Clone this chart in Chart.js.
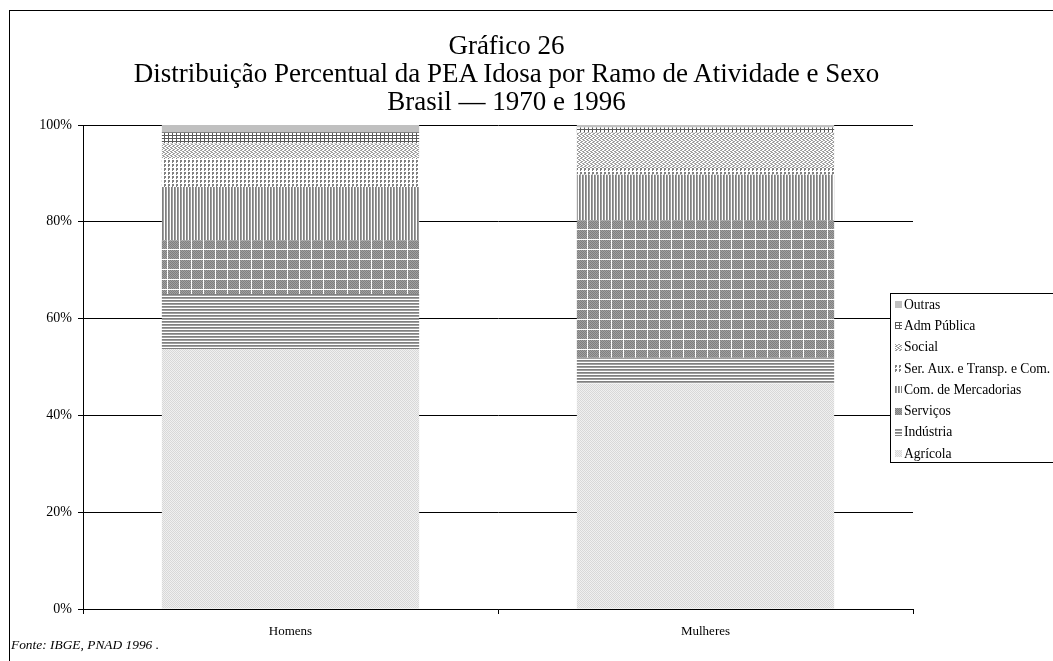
<!DOCTYPE html>
<html>
<head>
<meta charset="utf-8">
<script src="https://cdn.jsdelivr.net/npm/chart.js@4/dist/chart.umd.min.js"></script>
<style>
  body { margin: 0; background: #fff; font-family: 'Liberation Serif', 'Times New Roman', serif; }
  #wrap { position: relative; width: 1053px; height: 661px; overflow: hidden; }
  #frame { position: absolute; left: 9px; top: 10px; width: 1100px; height: 700px; border: 1.5px solid #000; box-sizing: border-box; }
  #c { position: absolute; left: 0; top: 0; }
  #title { position: absolute; left: 0; width: 1013px; top: 31px; text-align: center; font-size: 27px; line-height: 28px; color: #000; }
  #fonte { position: absolute; left: 11px; top: 637px; font-size: 13.4px; font-style: italic; }
  #legend { position: absolute; left: 890px; top: 293px; width: 200px; height: 170px; border: 1px solid #000; box-sizing: border-box; background: #fff; }
  .item { height: 21.3px; font-size: 13.6px; display: flex; align-items: center; padding-left: 4px; white-space: nowrap; }
  .item canvas { margin-right: 2px; }
</style>
</head>
<body>
<div id="wrap">
  <div id="frame"></div>
  <canvas id="c" width="1053" height="661"></canvas>
  <div id="title">Gráfico 26<br>Distribuição Percentual da PEA Idosa por Ramo de Atividade e Sexo<br>Brasil — 1970 e 1996</div>
  <div id="legend"></div>
  <div id="fonte">Fonte: IBGE, PNAD 1996 .</div>
</div>
<script>
'use strict';

let categories = ['Homens', 'Mulheres'];
let seriesNames = ['Agrícola', 'Indústria', 'Serviços', 'Com. de Mercadorias', 'Ser. Aux. e Transp. e Com.', 'Social', 'Adm Pública', 'Outras'];

let agricola   = [53.7, 46.6];
let industria  = [11.4, 5.3];
let servicos   = [11.1, 28.4];
let comMerc    = [11.0, 9.4];
let serAux     = [6.0, 1.4];
let social     = [3.0, 7.4];
let admPublica = [2.3, 1.0];
let outras     = [1.5, 0.5];

let yTicks = ['0%', '20%', '40%', '60%', '80%', '100%'];

// small tiles, each row is a string of pixel codes
let shades = { '.': '#ffffff', 'a': '#5a5a5a', 'b': '#808080', 'c': '#a0a0a0', 'd': '#c0c0c0', 'e': '#d8d8d8', 'f': '#f0f0f0' };
let tiles = [
  ['ef', 'fe'],                         // agricola
  ['b', 'c', '.'],                      // industria
  ['bcbcbcbcbcb.', 'cbcbcbcbcbc.', 'bcbcbcbcbcb.', 'cbcbcbcbcbc.', 'bcbcbcbcbcb.', 'cbcbcbcbcbc.', 'bcbcbcbcbcb.', 'cbcbcbcbcbc.', 'bcbcbcbcbcb.', '............'], // servicos
  ['bc.'],                              // com. de mercadorias
  ['bb..', 'bb..', 'b...', '....'],      // ser. aux.
  ['c..c', '.cc.', 'cc..', '..cc'],      // social (diagonal)
  ['aaaa', 'a...', 'a...'],             // adm publica
  ['d']                                 // outras
];

function makePattern(ctx, tile) {
  let h = tile.length;
  let w = tile[0].length;
  let t = document.createElement('canvas');
  t.width = w;
  t.height = h;
  let tc = t.getContext('2d');
  for (let y = 0; y < h; y++) {
    for (let x = 0; x < w; x++) {
      tc.fillStyle = shades[tile[y][x]];
      tc.fillRect(x, y, 1, 1);
    }
  }
  return ctx.createPattern(t, 'repeat');
}

let canvas = document.getElementById('c');
let ctx = canvas.getContext('2d');

let values = [agricola, industria, servicos, comMerc, serAux, social, admPublica, outras];
let datasets = [];
for (let i = 0; i < values.length; i++) {
  datasets.push({
    label: seriesNames[i],
    data: values[i],
    backgroundColor: makePattern(ctx, tiles[i]),
    borderWidth: 0
  });
}

// legend, top item is Outras
let legend = document.getElementById('legend');
for (let i = seriesNames.length - 1; i >= 0; i--) {
  let div = document.createElement('div');
  div.className = 'item';
  let sw = document.createElement('canvas');
  sw.width = 7;
  sw.height = 7;
  let sc = sw.getContext('2d');
  sc.fillStyle = makePattern(sc, tiles[i]);
  sc.fillRect(0, 0, 7, 7);
  div.appendChild(sw);
  div.appendChild(document.createTextNode(seriesNames[i]));
  legend.appendChild(div);
}

let fontFamily = "'Liberation Serif', 'Times New Roman', serif";

new Chart(ctx, {
  type: 'bar',
  data: { labels: categories, datasets: datasets },
  options: {
    responsive: false,
    animation: false,
    layout: { padding: { left: 36, right: 140, top: 125, bottom: 0 } },
    plugins: { legend: { display: false }, tooltip: { enabled: false }, title: { display: false } },
    datasets: { bar: { categoryPercentage: 1, barPercentage: 0.62 } },
    scales: {
      x: {
        stacked: true,
        grid: { display: true, drawOnChartArea: false, offset: true, color: '#000', tickLength: 5 },
        border: { display: true, color: '#000', width: 1 },
        ticks: { color: '#000', font: { family: fontFamily, size: 13 }, padding: 10 },
        afterFit: function (scale) { scale.height = 52; }
      },
      y: {
        stacked: true,
        min: 0,
        max: 100,
        grid: { color: '#000', tickLength: 5 },
        border: { display: true, color: '#000', width: 1 },
        ticks: {
          stepSize: 20,
          color: '#000',
          font: { family: fontFamily, size: 14 },
          padding: 6,
          callback: function (v) { return yTicks[v / 20]; }
        },
        afterFit: function (scale) { scale.width = 47; }
      }
    }
  }
});
</script>
</body>
</html>
